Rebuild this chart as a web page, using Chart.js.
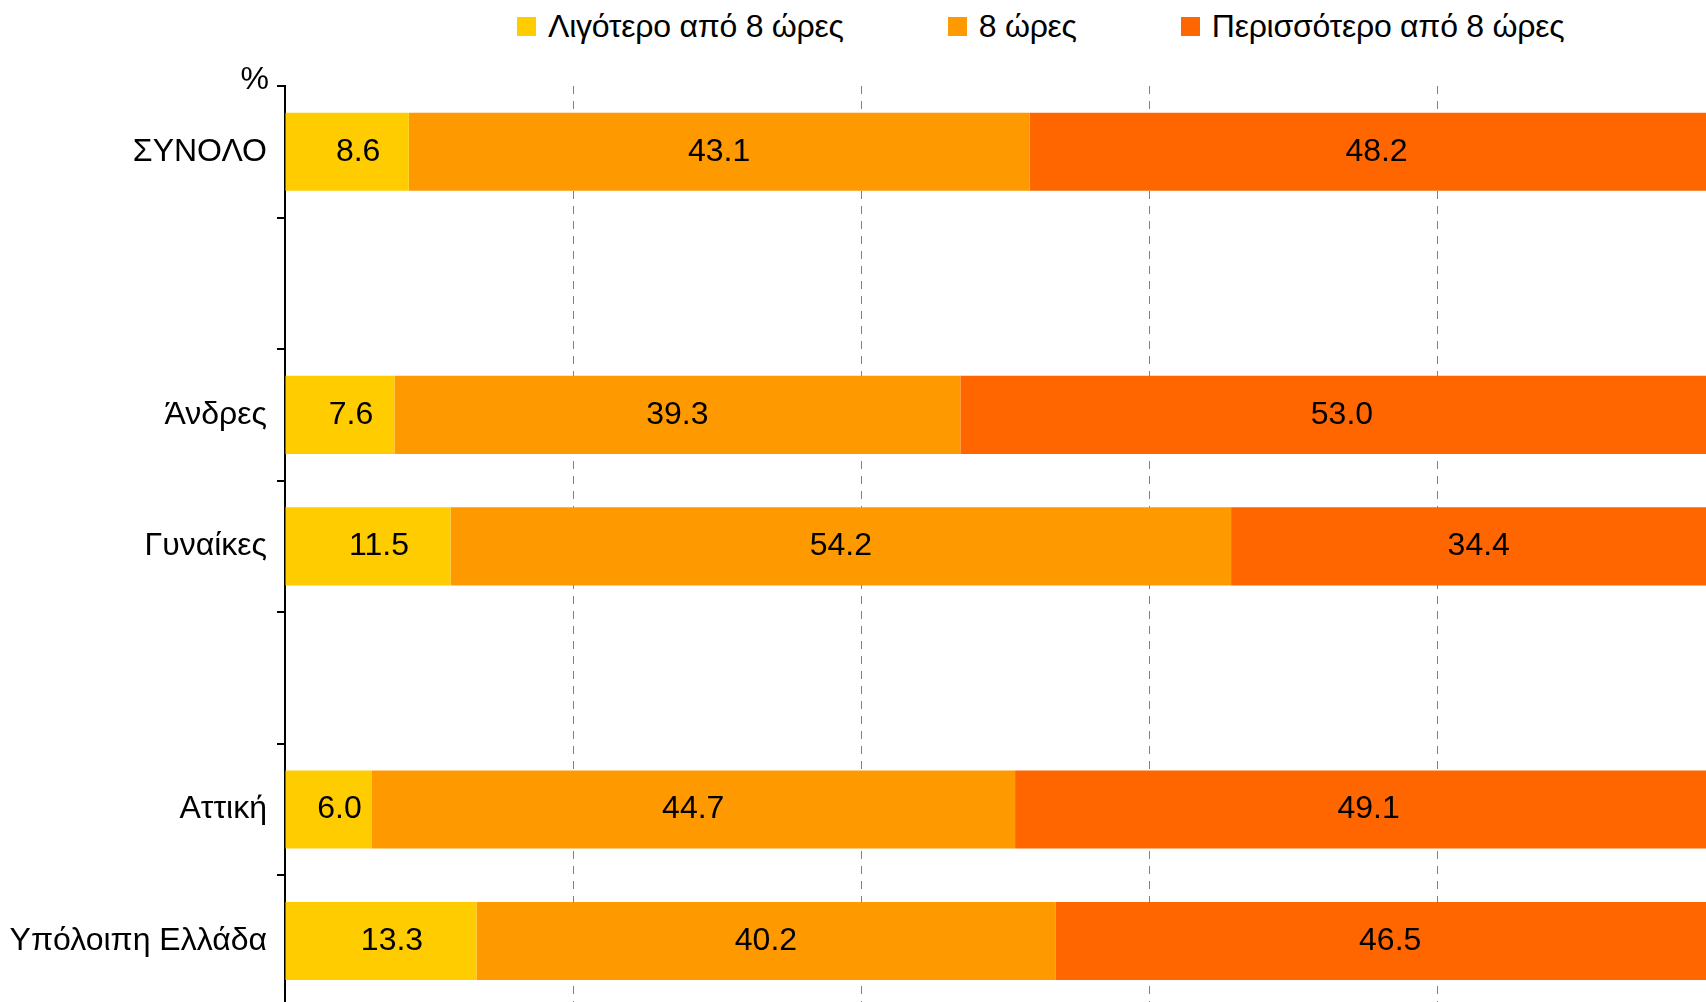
<!DOCTYPE html>
<html>
<head>
<meta charset="utf-8">
<script src="https://cdn.jsdelivr.net/npm/chart.js@4.4.1/dist/chart.umd.min.js"></script>
<style>
  html, body { margin: 0; padding: 0; background: #fff; overflow: hidden; width: 1706px; height: 1002px; }
  #wrap { position: relative; width: 1706px; height: 1002px; overflow: hidden; }
  #chart { position: absolute; left: 0; top: 0; }
  #legend { position: absolute; left: 517px; top: 6px; display: flex; gap: 104px;
            font: 32px "Liberation Sans", Arial, sans-serif; letter-spacing: -0.25px;
            color: #000; white-space: nowrap; }
  #legend .item { display: flex; align-items: center; height: 40px; }
  #legend .box { width: 19px; height: 19px; margin-right: 12px; }
</style>
</head>
<body>
<div id="wrap">
  <div id="legend"></div>
  <canvas id="chart" width="1725" height="1036"></canvas>
</div>
<script>
const categories = ['ΣΥΝΟΛΟ', '', 'Άνδρες', 'Γυναίκες', '', 'Αττική', 'Υπόλοιπη Ελλάδα'];
const seriesNames = ['Λιγότερο από 8 ώρες', '8 ώρες', 'Περισσότερο από 8 ώρες'];
const lessThan8 = [8.6, null, 7.6, 11.5, null, 6.0, 13.3];
const exactly8 = [43.1, null, 39.3, 54.2, null, 44.7, 40.2];
const moreThan8 = [48.2, null, 53.0, 34.4, null, 49.1, 46.5];
const colors = ['#FFCC00', '#FF9900', '#FF6600'];

const FONT = '"Liberation Sans", Arial, sans-serif';

// value labels in the middle of each segment
const barLabels = {
  id: 'barLabels',
  afterDatasetsDraw(chart) {
    const ctx = chart.ctx;
    ctx.save();
    ctx.font = '32px ' + FONT;
    ctx.fillStyle = '#000';
    ctx.textAlign = 'center';
    ctx.textBaseline = 'middle';
    chart.data.datasets.forEach((ds, i) => {
      const meta = chart.getDatasetMeta(i);
      meta.data.forEach((bar, j) => {
        const v = ds.data[j];
        if (v === null || v === undefined) return;
        const { x, base, y } = bar.getProps(['x', 'base', 'y'], true);
        ctx.fillText(v.toFixed(1), (x + base) / 2 + (ds.labelShift || 0), y);
      });
    });
    ctx.restore();
  }
};

// "%" unit at the top of the category axis
const unitLabel = {
  id: 'unitLabel',
  afterDraw(chart) {
    const ctx = chart.ctx;
    const area = chart.chartArea;
    ctx.save();
    ctx.font = '32px ' + FONT;
    ctx.fillStyle = '#000';
    ctx.textAlign = 'right';
    ctx.textBaseline = 'middle';
    ctx.fillText('%', area.left - 16, area.top - 6);
    ctx.restore();
  }
};

const chart = new Chart(document.getElementById('chart'), {
  type: 'bar',
  data: {
    labels: categories,
    datasets: [
      { label: seriesNames[0], data: lessThan8, backgroundColor: colors[0], labelShift: 11 },
      { label: seriesNames[1], data: exactly8, backgroundColor: colors[1] },
      { label: seriesNames[2], data: moreThan8, backgroundColor: colors[2] },
    ].map(d => Object.assign(d, { borderWidth: 0, categoryPercentage: 1, barPercentage: 0.594 })),
  },
  options: {
    indexAxis: 'y',
    responsive: false,
    animation: false,
    layout: { padding: { top: 86, left: 0, right: 0, bottom: 0 } },
    plugins: {
      legend: { display: false },
      tooltip: { enabled: false },
    },
    scales: {
      x: {
        stacked: true,
        min: 0,
        max: 100,
        afterFit: scale => { scale.height = 0; },
        ticks: { display: false, stepSize: 20 },
        grid: {
          drawTicks: false,
          lineWidth: 1,
          color: ctx => ctx.tick && ctx.tick.value === 0 ? 'rgba(0,0,0,0)' : '#7f7f7f',
        },
        border: { display: false, dash: [8, 7] },
      },
      y: {
        stacked: true,
        afterFit: scale => { scale.width = 285; },
        ticks: {
          autoSkip: false,
          padding: 10,
          color: '#000',
          font: { size: 32, family: FONT },
        },
        grid: {
          offset: true,
          drawOnChartArea: false,
          drawTicks: true,
          tickLength: 8,
          color: '#000',
          lineWidth: 2,
        },
        border: { display: true, color: '#000', width: 2 },
      },
    },
  },
  plugins: [barLabels, unitLabel],
});

// legend built from the chart's own datasets
const legend = document.getElementById('legend');
chart.data.datasets.forEach(ds => {
  const item = document.createElement('div');
  item.className = 'item';
  const box = document.createElement('span');
  box.className = 'box';
  box.style.background = ds.backgroundColor;
  const txt = document.createElement('span');
  txt.textContent = ds.label;
  item.appendChild(box);
  item.appendChild(txt);
  legend.appendChild(item);
});
</script>
</body>
</html>
